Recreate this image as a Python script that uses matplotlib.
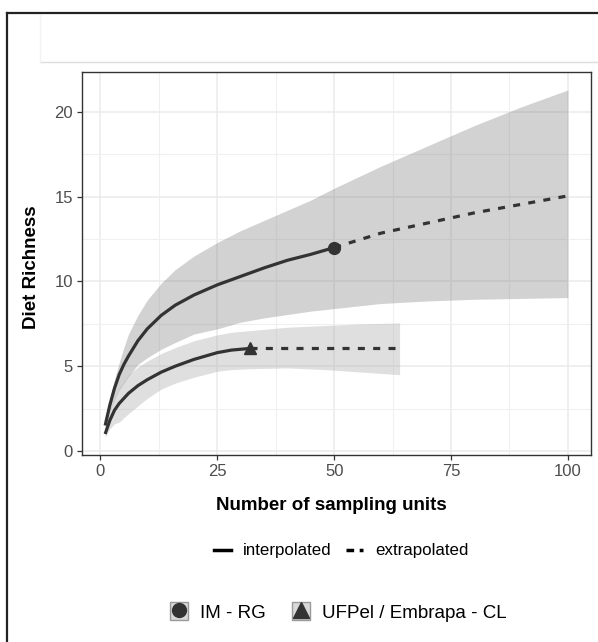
import numpy as np
import matplotlib.pyplot as plt
from matplotlib.lines import Line2D
from matplotlib.patches import Patch
from matplotlib.legend_handler import HandlerTuple

plt.rcParams['font.family'] = ['Liberation Sans', 'DejaVu Sans']

# IM - RG (circle): interpolated up to 50, extrapolated to 100
im_x_int = [1, 2, 3, 4, 5, 6, 8, 10, 13, 16, 20, 25, 30, 35, 40, 45, 50]
im_y_int = [1.5, 2.7, 3.7, 4.5, 5.1, 5.6, 6.5, 7.2, 8.0, 8.6, 9.2, 9.8, 10.3, 10.8, 11.25, 11.6, 12.0]
im_x_ext = [50, 60, 70, 80, 90, 100]
im_y_ext = [12.0, 12.85, 13.45, 14.05, 14.55, 15.05]
im_x_band = im_x_int + im_x_ext[1:]
im_lo = [1.3, 2.3, 3.0, 3.6, 4.0, 4.4, 5.1, 5.5, 6.0, 6.4, 6.9, 7.2, 7.6, 7.85, 8.05, 8.25, 8.4,
         8.7, 8.85, 8.95, 9.0, 9.05]
im_hi = [1.7, 3.0, 4.2, 5.2, 6.1, 6.9, 8.0, 8.9, 9.9, 10.7, 11.5, 12.3, 13.0, 13.6, 14.2, 14.8, 15.5,
         16.8, 18.0, 19.2, 20.3, 21.3]

# UFPel / Embrapa - CL (triangle): interpolated up to 32, extrapolated to 64
uf_x_int = [1, 2, 3, 4, 5, 6, 8, 10, 13, 16, 20, 25, 28, 32]
uf_y_int = [1.0, 1.8, 2.4, 2.8, 3.1, 3.4, 3.85, 4.2, 4.65, 5.0, 5.4, 5.8, 5.95, 6.05]
uf_x_ext = [32, 40, 48, 56, 64]
uf_y_ext = [6.05, 6.05, 6.05, 6.05, 6.05]
uf_x_band = uf_x_int + uf_x_ext[1:]
uf_lo = [0.8, 1.3, 1.6, 1.7, 1.95, 2.2, 2.65, 3.1, 3.65, 4.0, 4.35, 4.7, 4.8, 4.85,
         4.9, 4.8, 4.65, 4.5]
uf_hi = [1.2, 2.3, 3.1, 3.7, 4.1, 4.5, 4.95, 5.3, 5.75, 6.1, 6.5, 6.85, 7.0, 7.1,
         7.3, 7.4, 7.5, 7.55]

xticks = [0, 25, 50, 75, 100]
yticks = [0, 5, 10, 15, 20]

W, H = 598, 642
fig = plt.figure(figsize=(W / 100, H / 100), dpi=100)
ax = fig.add_axes([82 / W, 1 - 455 / H, (591 - 82) / W, (455 - 72) / H])

ax.fill_between(im_x_band, im_lo, im_hi, color='#7f7f7f', alpha=0.35, lw=0)
ax.fill_between(uf_x_band, uf_lo, uf_hi, color='#b0b0b0', alpha=0.4, lw=0)

line_kw = dict(color='#333333', lw=2.3, solid_capstyle='butt')
ax.plot(im_x_int, im_y_int, **line_kw)
ax.plot(im_x_ext, im_y_ext, ls=(0, (2.2, 2.6)), **line_kw)
ax.plot(uf_x_int, uf_y_int, **line_kw)
ax.plot(uf_x_ext, uf_y_ext, ls=(0, (2.2, 2.6)), **line_kw)
ax.plot(im_x_int[-1], im_y_int[-1], 'o', color='#333333', ms=8.5)
ax.plot(uf_x_int[-1], uf_y_int[-1], '^', color='#333333', ms=9)

ax.set_xlim(-3.95, 104.95)
ax.set_ylim(-0.24, 22.36)
ax.set_xticks(xticks)
ax.set_yticks(yticks)
ax.set_xticks([12.5, 37.5, 62.5, 87.5], minor=True)
ax.set_yticks([2.5, 7.5, 12.5, 17.5], minor=True)
ax.grid(which='major', color='#ebebeb', lw=1.1)
ax.grid(which='minor', color='#f0f0f0', lw=0.8)
ax.set_axisbelow(True)
ax.tick_params(which='major', length=3.6, width=0.9, color='#333333',
               labelsize=12, labelcolor='#4d4d4d', pad=3)
ax.tick_params(which='minor', length=0)
for s in ax.spines.values():
    s.set_color('#333333')
    s.set_linewidth(1.0)

ax.set_xlabel('Number of sampling units', fontsize=13.5, fontweight='bold', va='center')
ax.set_ylabel('Diet Richness', fontsize=13.5, fontweight='bold', va='center')
ax.xaxis.set_label_coords((331 - 82) / 509, (455 - 505) / 383)
ax.yaxis.set_label_coords((31 - 82) / 509, 0.49)

# linetype legend
lt_handles = [Line2D([], [], color='black', lw=2.5),
              Line2D([], [], color='black', lw=2.5, ls=(0, (2.2, 1.6)))]
fig.legend(lt_handles, ['interpolated', 'extrapolated'], loc='center',
           bbox_to_anchor=(341 / W, 1 - 551 / H), ncol=2, frameon=False,
           fontsize=12.2, handlelength=1.0, handletextpad=0.7, columnspacing=0.9)

# group legend
gh = [(Patch(facecolor='#d9d9d9', edgecolor='#9a9a9a', lw=1),
       Line2D([], [], marker='o', color='#333333', ls='', ms=10)),
      (Patch(facecolor='#d9d9d9', edgecolor='#9a9a9a', lw=1),
       Line2D([], [], marker='^', color='#333333', ls='', ms=11))]
fig.legend(gh, ['IM - RG', 'UFPel / Embrapa - CL'], loc='center',
           bbox_to_anchor=(338 / W, 1 - 612 / H), ncol=2, frameon=False,
           fontsize=13.5, handlelength=1.0, handleheight=1.05, handletextpad=0.6,
           columnspacing=1.4, handler_map={tuple: HandlerTuple(ndivide=1, pad=0)})

# outer frame and empty strip box
fig.add_artist(Line2D([7 / W, 7 / W], [0, 1 - 13 / H], color='#222222', lw=1.6))
fig.add_artist(Line2D([7 / W, 1], [1 - 13 / H, 1 - 13 / H], color='#222222', lw=1.6))
fig.add_artist(Line2D([40 / W, 1], [1 - 62 / H, 1 - 62 / H], color='#dddddd', lw=1))
fig.add_artist(Line2D([40 / W, 40 / W], [1 - 62 / H, 1 - 15 / H], color='#f2f2f2', lw=1))

fig.savefig('out.png', dpi=100)
